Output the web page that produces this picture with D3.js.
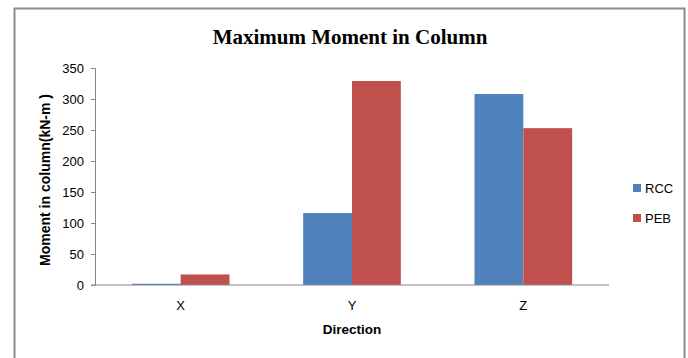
<!DOCTYPE html>
<html>
<head>
<meta charset="utf-8">
<script src="https://cdn.jsdelivr.net/npm/d3@7"></script>
<style>
  html, body { margin: 0; padding: 0; background: #fff; }
  svg { display: block; }
</style>
</head>
<body>
<svg id="chart" width="688" height="358"></svg>
<script>
// Maximum column moment by direction, RCC vs PEB frames (kN-m)
const directions = ["X", "Y", "Z"];
const seriesNames = ["RCC", "PEB"];
const rccValues = [2, 116, 308];
const pebValues = [17, 329, 253];
const yTicks = [0, 50, 100, 150, 200, 250, 300, 350];

const colors = { RCC: "#4F81BD", PEB: "#C0504D" };
const axisColor = "#868686";
const labelFont = "'Liberation Sans', Arial, sans-serif";

const svg = d3.select("#chart");

// outer chart frame
svg.append("rect")
  .attr("x", 14.5).attr("y", 8.5)
  .attr("width", 670).attr("height", 360)
  .attr("fill", "#fff")
  .attr("stroke", "#8c8c8c").attr("stroke-width", 2);

const plot = { left: 95, right: 609, top: 68, bottom: 285 };

const x = d3.scaleBand()
  .domain(directions)
  .range([plot.left, plot.right])
  .paddingInner(0.43)
  .paddingOuter(0.215);

const xSub = d3.scaleBand()
  .domain(seriesNames)
  .range([0, x.bandwidth()]);

const y = d3.scaleLinear()
  .domain([0, 350])
  .range([plot.bottom, plot.top]);

const rows = directions.map((d, i) => ({ dir: d, RCC: rccValues[i], PEB: pebValues[i] }));

// bars
const groups = svg.append("g").selectAll("g")
  .data(rows).join("g")
  .attr("transform", d => `translate(${x(d.dir)},0)`);

groups.selectAll("rect")
  .data(d => seriesNames.map(s => ({ s, v: d[s] })))
  .join("rect")
  .attr("x", d => xSub(d.s))
  .attr("width", xSub.bandwidth())
  .attr("y", d => y(d.v))
  .attr("height", d => y(0) - y(d.v))
  .attr("fill", d => colors[d.s]);

// y axis
const yAxis = svg.append("g")
  .attr("transform", `translate(${plot.left},0)`)
  .call(d3.axisLeft(y).tickValues(yTicks).tickSize(4).tickPadding(7).tickFormat(d3.format("d")));
yAxis.select(".domain").attr("stroke", axisColor);
yAxis.selectAll(".tick line").attr("stroke", axisColor);
yAxis.selectAll(".tick text")
  .attr("fill", "#000")
  .style("font-family", labelFont)
  .style("font-size", "13px");

// x axis
const xAxis = svg.append("g")
  .attr("transform", `translate(0,${plot.bottom})`)
  .call(d3.axisBottom(x).tickSize(0).tickPadding(16));
xAxis.select(".domain")
  .attr("stroke", axisColor)
  .attr("d", `M${plot.left - 4},0H${plot.right}`);
xAxis.selectAll(".tick text")
  .attr("fill", "#000")
  .style("font-family", labelFont)
  .style("font-size", "13px");

// title
svg.append("text")
  .attr("x", 350).attr("y", 44)
  .attr("text-anchor", "middle")
  .style("font-family", "'Liberation Serif', 'Times New Roman', serif")
  .style("font-weight", "bold")
  .style("font-size", "21px")
  .text("Maximum Moment in Column");

// axis titles
svg.append("text")
  .attr("x", 352).attr("y", 334)
  .attr("text-anchor", "middle")
  .style("font-family", labelFont)
  .style("font-weight", "bold")
  .style("font-size", "13.5px")
  .text("Direction");

svg.append("text")
  .attr("transform", "translate(50,180) rotate(-90)")
  .attr("text-anchor", "middle")
  .style("font-family", labelFont)
  .style("font-weight", "bold")
  .style("font-size", "14px")
  .text("Moment in column(kN-m )");

// legend
const legend = svg.append("g").selectAll("g")
  .data(seriesNames).join("g")
  .attr("transform", (d, i) => `translate(633,${184 + i * 30})`);
legend.append("rect")
  .attr("width", 8).attr("height", 8)
  .attr("fill", d => colors[d]);
legend.append("text")
  .attr("x", 12).attr("y", 8.5)
  .style("font-family", labelFont)
  .style("font-size", "13px")
  .text(d => d);
</script>
</body>
</html>
